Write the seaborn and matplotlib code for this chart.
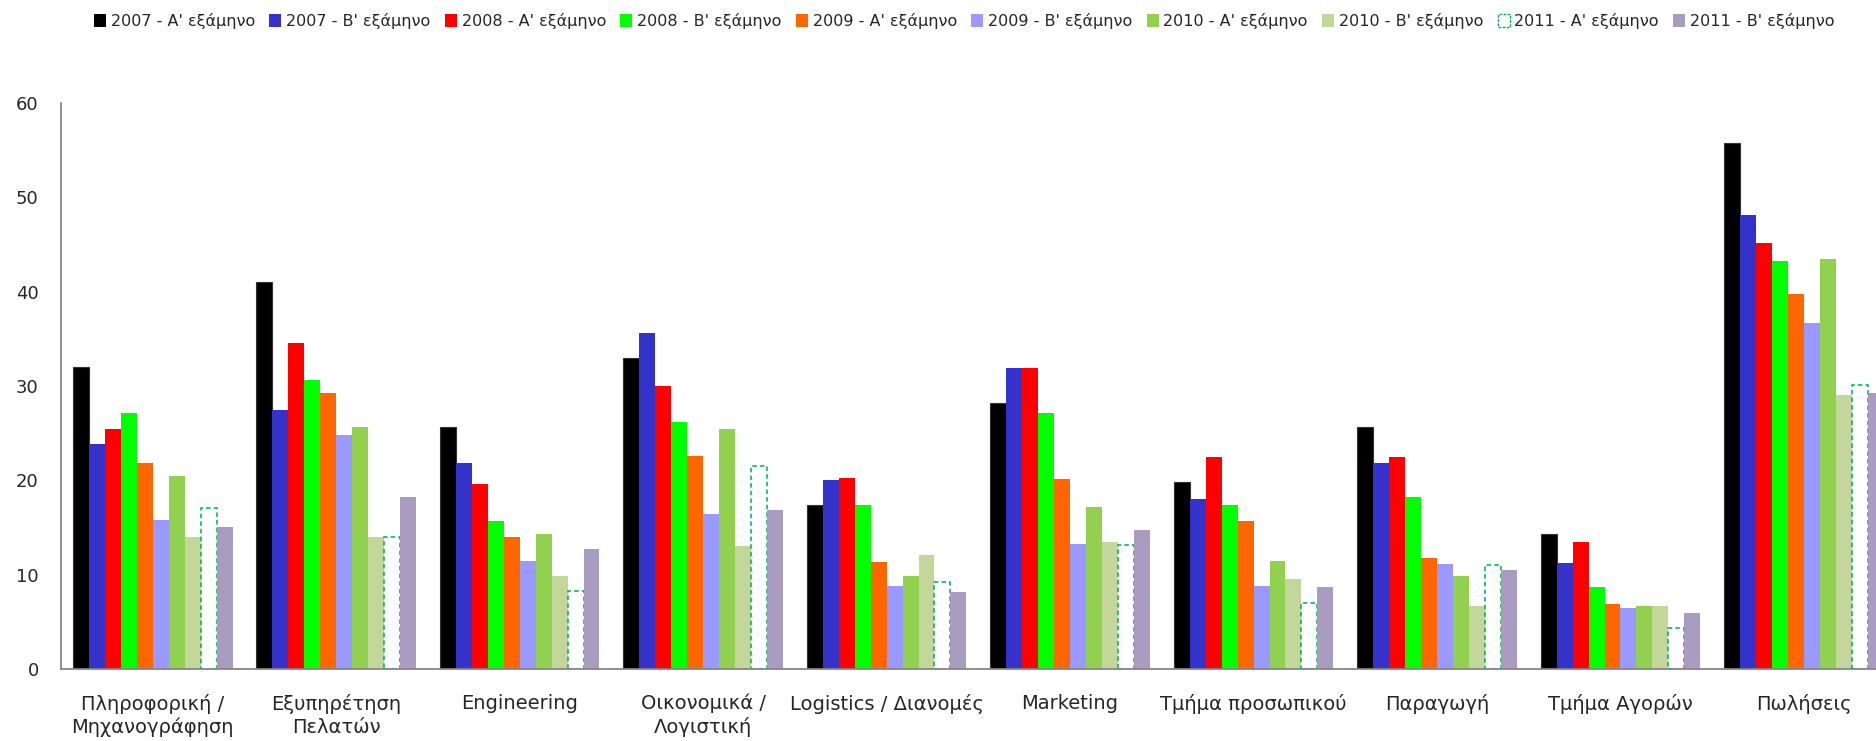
import pandas as pd
import numpy as np
import matplotlib
matplotlib.use('Agg')
import matplotlib.pyplot as plt
import seaborn as sns
from matplotlib.patches import Patch

categories = ['Πληροφορική /\nΜηχανογράφηση', 'Εξυπηρέτηση\nΠελατών', 'Engineering',
              'Οικονομικά /\nΛογιστική', 'Logistics / Διανομές', 'Marketing',
              'Τμήμα προσωπικού', 'Παραγωγή', 'Τμήμα Αγορών', 'Πωλήσεις']

series_names = ["2007 - Α' εξάμηνο", "2007 - Β' εξάμηνο", "2008 - Α' εξάμηνο",
                "2008 - Β' εξάμηνο", "2009 - Α' εξάμηνο", "2009 - Β' εξάμηνο",
                "2010 - Α' εξάμηνο", "2010 - Β' εξάμηνο", "2011 - Α' εξάμηνο",
                "2011 - Β' εξάμηνο"]

s2007_a = [32.0, 41.0, 25.7, 33.0, 17.4, 28.2, 19.8, 25.7, 14.3, 55.8]
s2007_b = [23.8, 27.5, 21.8, 35.6, 20.0, 31.9, 18.0, 21.8, 11.2, 48.1]
s2008_a = [25.4, 34.6, 19.6, 30.0, 20.2, 31.9, 22.5, 22.5, 13.5, 45.2]
s2008_b = [27.1, 30.6, 15.7, 26.2, 17.4, 27.1, 17.4, 18.2, 8.7, 43.2]
s2009_a = [21.8, 29.3, 14.0, 22.6, 11.3, 20.1, 15.7, 11.8, 6.9, 39.7]
s2009_b = [15.8, 24.8, 11.4, 16.4, 8.8, 13.3, 8.8, 11.1, 6.5, 36.7]
s2010_a = [20.5, 25.7, 14.3, 25.4, 9.9, 17.2, 11.4, 9.9, 6.7, 43.5]
s2010_b = [14.0, 14.0, 9.9, 13.0, 12.1, 13.5, 9.5, 6.7, 6.7, 29.0]
s2011_a = [17.1, 14.0, 8.3, 21.5, 9.2, 13.1, 7.0, 11.0, 4.3, 30.1]
s2011_b = [15.0, 18.2, 12.7, 16.9, 8.2, 14.7, 8.7, 10.5, 5.9, 29.3]

all_series = [s2007_a, s2007_b, s2008_a, s2008_b, s2009_a,
              s2009_b, s2010_a, s2010_b, s2011_a, s2011_b]

colors = ['#000000', '#3333cc', '#ff0000', '#00ff00', '#ff6600',
          '#9999ff', '#92d050', '#c4d79b', '#ffffff', '#aa9bc0']
dash_color = '#00b050'
text_color = '#262626'
axis_color = '#868686'


def plot_chart(path='out.png'):
    sns.set_style('white')
    plt.rcParams['font.family'] = ['DejaVu Sans']

    rows = []
    for name, vals in zip(series_names, all_series):
        for cat, v in zip(categories, vals):
            rows.append({'cat': cat, 'series': name, 'value': v})
    df = pd.DataFrame(rows)

    fig = plt.figure(figsize=(18.76, 7.41), dpi=100)
    ax = fig.add_axes([0.0325, 0.0972, 0.978, 0.7638])

    sns.barplot(data=df, x='cat', y='value', hue='series', order=categories,
                hue_order=series_names, palette=colors, width=0.87, gap=0,
                saturation=1, linewidth=0, errorbar=None, legend=False, ax=ax)

    # 2011 - A' is drawn as an empty bar with a dashed green outline
    for bar in ax.containers[8]:
        bar.set_facecolor('white')
        bar.set_edgecolor(dash_color)
        bar.set_linestyle((0, (3, 2)))
        bar.set_linewidth(1.1)
    for bar in ax.containers[0]:
        bar.set_edgecolor('#333333')
        bar.set_linewidth(0.8)

    ax.set_xlim(-0.5, len(categories) - 0.5)
    ax.set_ylim(0, 60)
    ax.set_yticks(np.arange(0, 61, 10))
    ax.set_xticks(np.arange(len(categories)))
    ax.set_xticklabels(categories, fontsize=14, color=text_color, linespacing=1.25)
    ax.set_xticks(np.arange(-0.5, len(categories), 1), minor=True)
    ax.tick_params(axis='x', which='major', length=0, pad=18)
    ax.tick_params(axis='x', which='minor', length=5, width=1, color=axis_color, direction='out')
    ax.tick_params(axis='y', length=6, width=1, color=axis_color, direction='out',
                   labelsize=13, labelcolor=text_color, pad=10)
    ax.set_xlabel('')
    ax.set_ylabel('')

    sns.despine(ax=ax, top=True, right=True)
    for side in ['left', 'bottom']:
        ax.spines[side].set_color(axis_color)
        ax.spines[side].set_linewidth(1.3)
        ax.spines[side].set_zorder(5)

    handles = []
    for name, c in zip(series_names, colors):
        if name.startswith('2011 - Α'):
            handles.append(Patch(facecolor='white', edgecolor=dash_color,
                                 linestyle=(0, (2, 1)), linewidth=1, label=name))
        else:
            handles.append(Patch(facecolor=c, edgecolor='none', label=name))
    fig.legend(handles=handles, loc='upper center', bbox_to_anchor=(0.514, 1.0),
               ncol=10, frameon=False, fontsize=11.5, handlelength=0.75,
               handleheight=0.85, handletextpad=0.3, columnspacing=0.9,
               labelcolor=text_color, borderaxespad=0.4)

    plt.savefig(path, dpi=100)
    plt.close()


plot_chart()
